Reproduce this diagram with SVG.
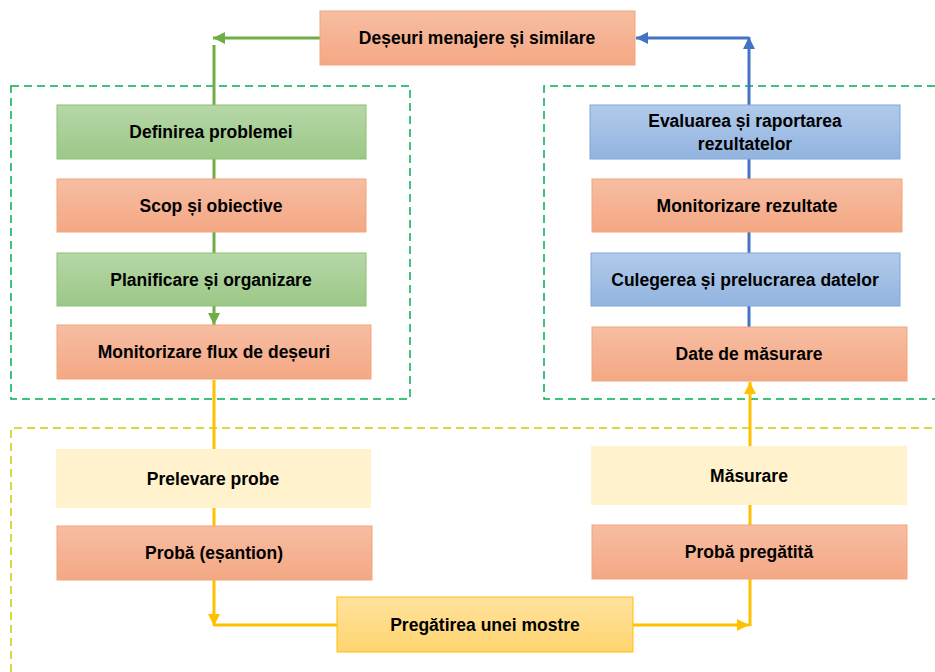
<svg xmlns="http://www.w3.org/2000/svg" width="935" height="672" viewBox="0 0 935 672">
<style>
text{font-family:"Liberation Sans",Arial,sans-serif;font-weight:bold;font-size:17.5px;fill:#000;text-anchor:middle;dominant-baseline:central}
.sal{fill:url(#gs);stroke:#F1A57A;stroke-width:1}
.grn{fill:url(#gg);stroke:#8CC06F;stroke-width:1}
.blu{fill:url(#gb);stroke:#7FA8DC;stroke-width:1}
.lyel{fill:#FFF2CC}
.yel{fill:url(#gy);stroke:#FFC000;stroke-width:1}
.dg{fill:none;stroke:#00B050;stroke-width:1.5;stroke-dasharray:8 5}
.dy{fill:none;stroke:#CCCC00;stroke-width:1.5;stroke-dasharray:8 5}
.cg{fill:none;stroke:#70AD47;stroke-width:3}
.cb{fill:none;stroke:#4472C4;stroke-width:3}
.cy{fill:none;stroke:#FFC000;stroke-width:3}
</style>
<defs>
<linearGradient id="gs" x1="0" y1="0" x2="0" y2="1"><stop offset="0" stop-color="#F7BDA2"/><stop offset="1" stop-color="#F4A884"/></linearGradient>
<linearGradient id="gg" x1="0" y1="0" x2="0" y2="1"><stop offset="0" stop-color="#B6D7A8"/><stop offset="1" stop-color="#9CC887"/></linearGradient>
<linearGradient id="gb" x1="0" y1="0" x2="0" y2="1"><stop offset="0" stop-color="#B1CAEA"/><stop offset="1" stop-color="#92B4E0"/></linearGradient>
<linearGradient id="gy" x1="0" y1="0" x2="0" y2="1"><stop offset="0" stop-color="#FFE29E"/><stop offset="1" stop-color="#FFD570"/></linearGradient>
<marker id="ag" markerUnits="userSpaceOnUse" markerWidth="14" markerHeight="14" refX="12" refY="7" orient="auto"><path d="M0,1 L12,7 L0,13 Z" fill="#70AD47"/></marker>
<marker id="ab" markerUnits="userSpaceOnUse" markerWidth="14" markerHeight="14" refX="12" refY="7" orient="auto"><path d="M0,1 L12,7 L0,13 Z" fill="#4472C4"/></marker>
<marker id="ay" markerUnits="userSpaceOnUse" markerWidth="14" markerHeight="14" refX="12" refY="7" orient="auto"><path d="M0,1 L12,7 L0,13 Z" fill="#FFC000"/></marker>
</defs>

<g id="groups">
<rect class="dg" x="11" y="86" width="399" height="313"/>
<path class="dg" d="M935,86 H544 V399 H935"/>
<path class="dy" d="M11,672 V428 H935"/>
</g>

<g id="connectors">
<path class="cg" d="M320,38 H213" marker-end="url(#ag)"/>
<path class="cg" d="M214,105 V45"/>
<path class="cg" d="M214,159 V179"/>
<path class="cg" d="M214,232 V253"/>
<path class="cg" d="M214,306 V325" marker-end="url(#ag)"/>
<path class="cy" d="M214,380 V449"/>
<path class="cy" d="M214,508 V526"/>
<path class="cy" d="M214,580 V626" marker-end="url(#ay)"/>
<path class="cy" d="M214,625 H337"/>
<path class="cy" d="M633,625 H749" marker-end="url(#ay)"/>
<path class="cy" d="M750,579 V626"/>
<path class="cy" d="M750,505 V525"/>
<path class="cy" d="M750,446 V382" marker-end="url(#ay)"/>
<path class="cb" d="M749,327 V306"/>
<path class="cb" d="M749,253 V232"/>
<path class="cb" d="M749,179 V159"/>
<path class="cb" d="M749,105 V37" marker-end="url(#ab)"/>
<path class="cb" d="M749,38 H636" marker-end="url(#ab)"/>
</g>

<g id="n-deseuri"><rect class="sal" x="320" y="11" width="315" height="54"/><text x="477" y="38">Deșeuri menajere și similare</text></g>
<g id="n-definirea"><rect class="grn" x="57" y="105" width="309" height="54"/><text x="211" y="132">Definirea problemei</text></g>
<g id="n-scop"><rect class="sal" x="57" y="179" width="309" height="53"/><text x="211" y="206">Scop și obiective</text></g>
<g id="n-planificare"><rect class="grn" x="57" y="253" width="309" height="53"/><text x="211" y="280">Planificare și organizare</text></g>
<g id="n-monflux"><rect class="sal" x="57" y="325" width="314" height="54"/><text x="214" y="352">Monitorizare flux de deșeuri</text></g>
<g id="n-prelevare"><rect class="lyel" x="56" y="449" width="315" height="59"/><text x="213" y="479">Prelevare probe</text></g>
<g id="n-proba"><rect class="sal" x="57" y="526" width="315" height="54"/><text x="214" y="553">Probă (eșantion)</text></g>
<g id="n-pregatirea"><rect class="yel" x="337" y="597" width="296" height="55"/><text x="485" y="625">Pregătirea unei mostre</text></g>
<g id="n-probapreg"><rect class="sal" x="592" y="525" width="315" height="54"/><text x="749" y="552">Probă pregătită</text></g>
<g id="n-masurare"><rect class="lyel" x="591" y="446" width="316" height="59"/><text x="749" y="476">Măsurare</text></g>
<g id="n-date"><rect class="sal" x="592" y="327" width="315" height="54"/><text x="749" y="354">Date de măsurare</text></g>
<g id="n-culegerea"><rect class="blu" x="591" y="253" width="309" height="53"/><text x="745" y="280">Culegerea și prelucrarea datelor</text></g>
<g id="n-monrez"><rect class="sal" x="592" y="179" width="310" height="53"/><text x="747" y="206">Monitorizare rezultate</text></g>
<g id="n-evaluarea"><rect class="blu" x="590" y="105" width="310" height="54"/><text x="745" y="121">Evaluarea și raportarea</text><text x="745" y="144">rezultatelor</text></g>
</svg>
